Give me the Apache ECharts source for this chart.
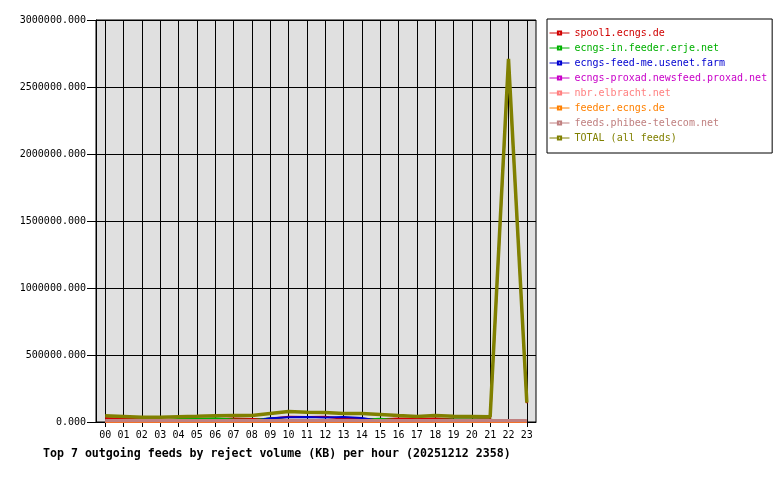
<!DOCTYPE html>
<html>
<head>
<meta charset="utf-8">
<script src="https://cdn.jsdelivr.net/npm/echarts@6/dist/echarts.min.js"></script>
<style>
html,body{margin:0;padding:0;background:#fff;}
#chart{width:780px;height:480px;}
</style>
</head>
<body>
<div id="chart"></div>
<script>
var hours = ['00','01','02','03','04','05','06','07','08','09','10','11','12','13','14','15','16','17','18','19','20','21','22','23'];
var yTicks = [0, 500000, 1000000, 1500000, 2000000, 2500000, 3000000];

var spool1   = [30000, 24000, 20000, 18000, 17000, 18000, 20000, 27000, 22000, 24000, 40000, 38000, 40000, 24000, 22000, 20000, 27000, 24000, 27000, 20000, 18000, 22000, 2690000, 140000];
var ecngsIn  = [4000, 3000, 3000, 10000, 22000, 22000, 28000, 18000, 14000, 28000, 12000, 6000, 5000, 8000, 16000, 24000, 14000, 12000, 14000, 18000, 18000, 16000, 6000, 2000];
var feedMe   = [0, 0, 0, 0, 0, 0, 0, 0, 6000, 28000, 36000, 38000, 34000, 38000, 30000, 8000, 2000, 0, 0, 0, 0, 0, 0, 0];
var proxad   = [2000, 2000, 2000, 2000, 2000, 2000, 2000, 2000, 2000, 2000, 2000, 2000, 2000, 2000, 2000, 2000, 2000, 2000, 2000, 2000, 2000, 2000, 2000, 2000];
var nbr      = [3000, 4000, 3000, 3000, 3000, 3000, 3000, 3000, 3000, 3000, 3000, 3000, 3000, 3000, 3000, 3000, 3000, 3000, 3000, 3000, 3000, 3000, 3000, 3000];
var feeder   = [1000, 1000, 1000, 1000, 1000, 1000, 1000, 1000, 1000, 1000, 1000, 1000, 1000, 1000, 1000, 1000, 1000, 1000, 1000, 1000, 1000, 1000, 1000, 1000];
var phibee   = [12000, 12000, 12000, 12000, 12000, 12000, 12000, 12000, 12000, 12000, 12000, 12000, 12000, 12000, 12000, 12000, 12000, 12000, 12000, 12000, 12000, 12000, 12000, 12000];
var total    = [47000, 41000, 35000, 35000, 40000, 42000, 47000, 48000, 48000, 63000, 78000, 72000, 71000, 64000, 63000, 56000, 48000, 41000, 48000, 42000, 41000, 40000, 2710000, 145000];

var seriesNames = ['spool1.ecngs.de','ecngs-in.feeder.erje.net','ecngs-feed-me.usenet.farm','ecngs-proxad.newsfeed.proxad.net','nbr.elbracht.net','feeder.ecngs.de','feeds.phibee-telecom.net','TOTAL (all feeds)'];
var seriesData = [spool1, ecngsIn, feedMe, proxad, nbr, feeder, phibee, total];
var colors = ['#d00000','#00b000','#0000d0','#c800c8','#ff8080','#ff8000','#c08080','#808000'];
var widths = [2, 2, 2, 2, 2, 2, 3, 3.5];

var mono = '"DejaVu Sans Mono", "Liberation Mono", monospace';

var chart = echarts.init(document.getElementById('chart'), null, {renderer:'canvas'});
var series = seriesNames.map(function(n, i){
  return {
    name: n,
    type: 'line',
    data: seriesData[i],
    symbol: 'emptyRect',
    showSymbol: false,
    animation: false,
    color: colors[i],
    itemStyle: {color: colors[i]},
    lineStyle: {color: colors[i], width: widths[i]},
    emphasis: {disabled: true}
  };
});

chart.setOption({
  animation: false,
  backgroundColor: '#ffffff',
  title: {
    text: 'Top 7 outgoing feeds by reject volume (KB) per hour (20251212 2358)',
    left: 38, top: 443,
    textStyle: {fontFamily: mono, fontWeight: 'bold', fontSize: 11.6, color: '#000'}
  },
  grid: {
    left: 96, right: 244, top: 20, bottom: 58,
    show: true, backgroundColor: '#e0e0e0', borderColor: '#000', borderWidth: 1
  },
  legend: {
    orient: 'vertical',
    left: 547, top: 19,
    backgroundColor: '#fff',
    borderColor: '#000', borderWidth: 1,
    padding: [8, 5, 9, 2],
    itemWidth: 20, itemHeight: 4, itemGap: 3,
    lineStyle: {width: 1},
    selectedMode: false,
    data: seriesNames.map(function(n, i){
      return {name: n, textStyle: {color: colors[i]}};
    }),
    textStyle: {fontFamily: mono, fontSize: 10, lineHeight: 12}
  },
  xAxis: {
    type: 'category',
    data: hours,
    boundaryGap: true,
    axisLine: {lineStyle: {color: '#000', width: 1}},
    axisTick: {show: true, alignWithLabel: true, interval: 0, length: 5, lineStyle: {color: '#000'}},
    axisLabel: {interval: 0, margin: 8, color: '#000', fontFamily: mono, fontSize: 10},
    splitLine: {show: true, alignWithLabel: true, interval: 0, lineStyle: {color: '#000', width: 1}}
  },
  yAxis: {
    type: 'value',
    min: yTicks[0], max: yTicks[yTicks.length-1], interval: 500000,
    axisLine: {show: true, lineStyle: {color: '#000'}},
    axisTick: {show: true, length: 9, lineStyle: {color: '#000'}},
    axisLabel: {margin: 10, color: '#000', fontFamily: mono, fontSize: 10,
      formatter: function(v){ return v.toFixed(3); }},
    splitLine: {show: true, lineStyle: {color: '#000', width: 1}}
  },
  series: series
});
</script>
</body>
</html>
